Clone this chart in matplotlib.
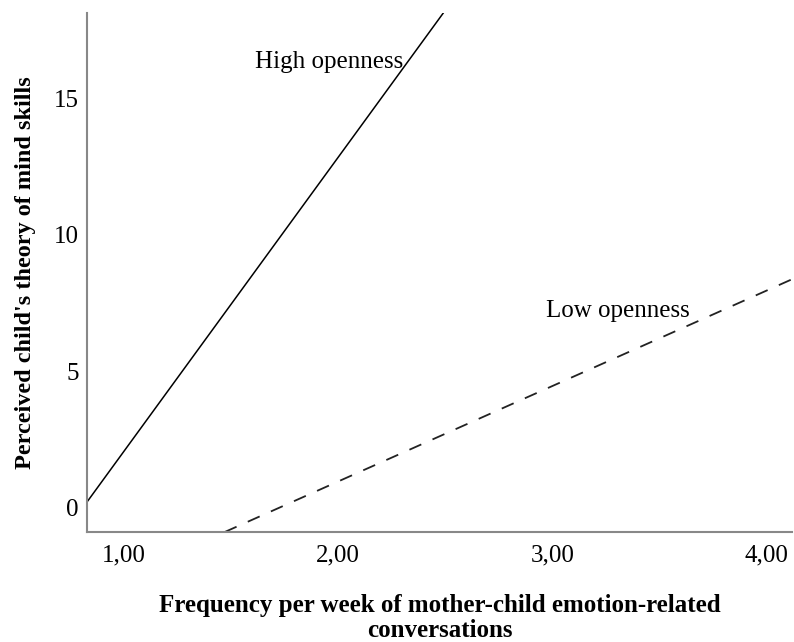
import numpy as np
import matplotlib.pyplot as plt

plt.rcParams['font.family'] = ['Liberation Serif', 'DejaVu Serif']

# line endpoints
high_x = [0.827, 2.49]
high_y = [0.22, 18.1]
low_x = [1.47, 4.12]
low_y = [-0.88, 8.37]

xticks = [1, 2, 3, 4]
xtick_labels = ['1,00', '2,00', '3,00', '4,00']
yticks = [0, 5, 10, 15]

fig = plt.figure(figsize=(7.94, 6.42), dpi=100)
ax = fig.add_axes([0.1096, 0.1713, 0.888, 0.808])

ax.plot(high_x, high_y, color='black', lw=1.1)
ax.plot(low_x, low_y, color='#222222', lw=1.3, ls=(0, (7.2, 6.8)))

ax.text(1.61, 16.3, 'High openness', fontsize=18, va='center')
ax.text(2.97, 7.2, 'Low openness', fontsize=18, va='center')

ax.set_xlim(0.827, 4.12)
ax.set_ylim(-0.88, 18.1)
ax.set_xticks(xticks)
ax.set_xticklabels(xtick_labels)
ax.set_yticks(yticks)
ax.tick_params(length=0, labelsize=18)
ax.tick_params(axis='x', pad=9)
ax.tick_params(axis='y', pad=6)

for s in ['top', 'right']:
    ax.spines[s].set_visible(False)
for s in ['left', 'bottom']:
    ax.spines[s].set_color('#888888')
    ax.spines[s].set_linewidth(1.5)

ax.set_xlabel('Frequency per week of mother-child emotion-related\nconversations',
              fontsize=18, fontweight='bold', labelpad=20, linespacing=1.1)
ax.set_ylabel("Perceived child's theory of mind skills",
              fontsize=17.5, fontweight='bold', labelpad=13)

fig.savefig('out.png', dpi=100)
